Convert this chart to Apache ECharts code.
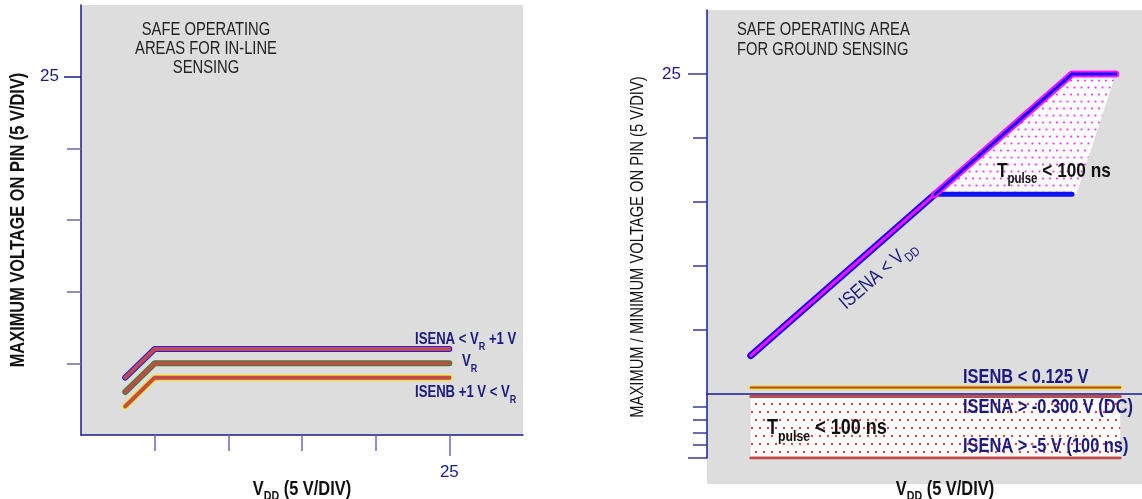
<!DOCTYPE html>
<html>
<head>
<meta charset="utf-8">
<script src="https://cdn.jsdelivr.net/npm/echarts@6/dist/echarts.min.js"></script>
<style>
html, body { margin: 0; padding: 0; background: #fff; }
#main { width: 1142px; height: 499px; }
</style>
</head>
<body>
<div id="main"></div>
<script>
// in-line sensing (left panel), volts
const inlineX = [3, 5, 25];
const isenaInline = [4, 6, 6];
const vrInline = [3, 5, 5];
const isenbInline = [2, 4, 4];

// ground sensing (right panel)
const gndX = [3, 15.6, 25, 28];
const gndY = [3, 15.6, 25, 25];
const floorX = [15.6, 25];
const floorY = [15.6, 15.6];
const pulseAreaX = [15.6, 25, 28, 25.3];
const pulseAreaY = [15.6, 25, 25, 15.6];
const lowX = [3, 28.3];
const isenbGnd = 0.5;
const isenaDc = -0.2;
const isenaPulse = -5;

// ticks
const inlineTicks = [5, 10, 15, 20];
const gndTicks = [-4, -3, -2, -1, 5, 10, 15, 20];
const bigTick = [25];
const gndBigTicks = [-5, 25];

const FONT = "'Liberation Sans', Arial, sans-serif";
const NAVY = '#1a1a80';
const AXIS = '#1a1a8c';
const RED = '#c24a4a';
const NARROW = 0.82; // squeeze to look like a condensed face

function pts(xs, ys) {
    return xs.map(function (x, i) { return [x, ys[i]]; });
}

// dotted fill pattern
function dots(color, step, r) {
    var c = document.createElement('canvas');
    c.width = step * 2; c.height = step * 2;
    var g = c.getContext('2d');
    g.fillStyle = '#fff';
    g.fillRect(0, 0, c.width, c.height);
    g.fillStyle = color;
    [[step / 2, step / 2], [step * 1.5, step / 2], [step, step * 1.5], [0, step * 1.5], [step * 2, step * 1.5]].forEach(function (p) {
        g.beginPath(); g.arc(p[0], p[1], r, 0, Math.PI * 2); g.fill();
    });
    return { image: c, repeat: 'repeat' };
}

function line(data, color, width, xi, yi, z) {
    return {
        type: 'line', xAxisIndex: xi, yAxisIndex: yi, data: data,
        symbol: 'none', z: z, silent: true,
        lineStyle: { color: color, width: width, cap: 'round', join: 'round' }
    };
}

function area(data, fill, xi, yi) {
    return {
        type: 'custom', xAxisIndex: xi, yAxisIndex: yi, data: [0], z: 1, silent: true,
        renderItem: function (params, api) {
            return {
                type: 'polygon',
                shape: { points: data.map(function (p) { return api.coord(p); }) },
                style: { fill: fill }
            };
        }
    };
}

// text with {m|..} and {s|..} (subscript) parts
function rich(text, size, subSize, color, weight, x, y, align, rotation) {
    return {
        type: 'text', x: x, y: y, z: 100, silent: true,
        rotation: rotation || 0, scaleX: NARROW,
        style: {
            text: text, textAlign: align, verticalAlign: 'middle', fill: color,
            rich: {
                m: { fontSize: size, fontWeight: weight, fontFamily: FONT, fill: color, lineHeight: size, verticalAlign: 'top' },
                s: { fontSize: subSize, fontWeight: weight, fontFamily: FONT, fill: color, lineHeight: subSize, verticalAlign: 'top', padding: [Math.round(size * 0.55), 0, 0, 0] }
            }
        }
    };
}

function plain(text, size, color, weight, x, y, align, rotation, lh) {
    return {
        type: 'text', x: x, y: y, z: 100, silent: true,
        rotation: rotation || 0, scaleX: NARROW,
        style: {
            text: text, textAlign: align, verticalAlign: 'middle', fill: color,
            fontSize: size, fontWeight: weight, fontFamily: FONT, lineHeight: lh || size + 2
        }
    };
}

var chart = echarts.init(document.getElementById('main'));

var tickLabel = { color: AXIS, fontSize: 17, fontFamily: FONT };

var option = {
    animation: false,
    backgroundColor: '#fff',
    grid: [
        { left: 81, top: 5, width: 442, height: 430, show: true, backgroundColor: '#dddddd', borderWidth: 0, outerBoundsMode: 'none', containLabel: false },
        { left: 707, top: 10, width: 438, height: 448, show: false, outerBoundsMode: 'none', containLabel: false }
    ],
    xAxis: [
        { gridIndex: 0, type: 'value', min: 0, max: 30, position: 'bottom',
          axisLine: { show: true, onZero: false, lineStyle: { color: AXIS, width: 1.5 } },
          axisTick: { show: true, customValues: inlineTicks, length: 16, lineStyle: { color: '#6a6ab4', width: 1.5 } },
          axisLabel: { show: false }, splitLine: { show: false } },
        { gridIndex: 0, type: 'value', min: 0, max: 30, position: 'bottom', offset: 0,
          axisLine: { show: false, onZero: false },
          axisTick: { show: true, customValues: bigTick, length: 21, lineStyle: { color: '#6a6ab4', width: 1.5 } },
          axisLabel: Object.assign({ show: true, customValues: bigTick, margin: 29 }, tickLabel),
          splitLine: { show: false } },
        { gridIndex: 1, type: 'value', min: 0, max: 30, position: 'bottom',
          axisLine: { show: true, onZero: true, lineStyle: { color: AXIS, width: 1.5 } },
          axisTick: { show: false }, axisLabel: { show: false }, splitLine: { show: false } }
    ],
    yAxis: [
        { gridIndex: 0, type: 'value', min: 0, max: 30, position: 'left',
          axisLine: { show: true, onZero: false, lineStyle: { color: AXIS, width: 1.5 } },
          axisTick: { show: true, customValues: inlineTicks, length: 14, lineStyle: { color: '#6a6ab4', width: 1.5 } },
          axisLabel: { show: false }, splitLine: { show: false } },
        { gridIndex: 0, type: 'value', min: 0, max: 30, position: 'left', offset: 0,
          axisLine: { show: false, onZero: false },
          axisTick: { show: true, customValues: bigTick, length: 17, lineStyle: { color: AXIS, width: 1.5 } },
          axisLabel: Object.assign({ show: true, customValues: bigTick, margin: 22 }, tickLabel),
          splitLine: { show: false } },
        { gridIndex: 1, type: 'value', min: -5, max: 30, position: 'left',
          axisLine: { show: true, onZero: false, lineStyle: { color: AXIS, width: 1.5 } },
          axisTick: { show: true, customValues: gndTicks, length: 14, lineStyle: { color: '#3a3a9c', width: 1.5 } },
          axisLabel: { show: false }, splitLine: { show: false } },
        { gridIndex: 1, type: 'value', min: -5, max: 30, position: 'left', offset: 0,
          axisLine: { show: false, onZero: false },
          axisTick: { show: true, customValues: gndBigTicks, length: 19, lineStyle: { color: '#3a3a9c', width: 1.5 } },
          axisLabel: Object.assign({ show: true, customValues: bigTick, margin: 26 }, tickLabel),
          splitLine: { show: false } }
    ],
    graphic: [
        { type: 'rect', z: -10, silent: true, shape: { x: 707, y: 10, width: 435, height: 474 }, style: { fill: '#dddddd' } },
        plain('SAFE OPERATING\nAREAS FOR IN-LINE\nSENSING', 18, '#222', 'normal', 206, 49, 'center', 0, 19),
        plain('SAFE OPERATING AREA\nFOR GROUND SENSING', 18, '#222', 'normal', 737, 40, 'left', 0, 20),
        plain('MAXIMUM VOLTAGE ON PIN (5 V/DIV)', 20, '#111', 'bold', 18, 220, 'center', Math.PI / 2),
        plain('MAXIMUM / MINIMUM VOLTAGE ON PIN (5 V/DIV)', 18, '#111', 'normal', 638, 247, 'center', Math.PI / 2),
        rich('{m|V}{s|DD}{m| (5 V/DIV)}', 20, 13, '#111', 'bold', 302, 489, 'center'),
        rich('{m|V}{s|DD}{m| (5 V/DIV)}', 20, 13, '#111', 'bold', 945, 489, 'center'),
        rich('{m|ISENA < V}{s|R}{m| +1 V}', 16, 11, NAVY, 'bold', 415, 340, 'left'),
        rich('{m|V}{s|R}', 16, 11, NAVY, 'bold', 462, 362, 'left'),
        rich('{m|ISENB +1 V < V}{s|R}', 16, 11, NAVY, 'bold', 415, 393, 'left'),
        rich('{m|T}{s|pulse}{m| < 100 ns}', 21, 14, '#111', 'bold', 997, 171, 'left'),
        rich('{m|T}{s|pulse}{m| < 100 ns}', 22, 15, '#111', 'bold', 767, 428, 'left'),
        rich('{m|ISENA < V}{s|DD}', 20, 13, NAVY, 'normal', 878, 275, 'center', 0.716),
        plain('ISENB < 0.125 V', 20, NAVY, 'bold', 963, 377, 'left'),
        plain('ISENA > -0.300 V (DC)', 20, NAVY, 'bold', 963, 407, 'left'),
        plain('ISENA > -5 V (100 ns)', 20, NAVY, 'bold', 963, 446, 'left')
    ],
    series: [
        // left panel
        line(pts(inlineX, isenaInline), '#2020e0', 6, 0, 0, 3),
        line(pts(inlineX, isenaInline), RED, 4, 0, 0, 4),
        line(pts(inlineX, vrInline), '#2e8a2e', 6, 0, 0, 3),
        line(pts(inlineX, vrInline), RED, 4, 0, 0, 4),
        line(pts(inlineX, isenbInline), '#f4e000', 6, 0, 0, 3),
        line(pts(inlineX, isenbInline), RED, 4, 0, 0, 4),
        // right panel fills
        area(pts(pulseAreaX, pulseAreaY), dots('#ff30ff', 7, 1.1), 2, 2),
        area([[lowX[0], isenaDc], [lowX[1], isenaDc], [lowX[1], isenaPulse], [lowX[0], isenaPulse]], dots('#ff3838', 8, 1.2), 2, 2),
        // right panel lines
        line(pts(floorX, floorY), '#1010f0', 5, 2, 2, 3),
        line(pts(gndX.slice(0, 2), gndY.slice(0, 2)), '#1010f0', 7, 2, 2, 3),
        line(pts(gndX.slice(0, 2), gndY.slice(0, 2)), '#ff10ff', 3, 2, 2, 4),
        line(pts(gndX.slice(1), gndY.slice(1)), '#ff10ff', 7, 2, 2, 3),
        line(pts(gndX.slice(1), gndY.slice(1)), '#1010f0', 3, 2, 2, 4),
        line(pts(lowX, [isenbGnd, isenbGnd]), '#f4e000', 4, 2, 2, 3),
        line(pts(lowX, [isenbGnd, isenbGnd]), '#b84040', 2, 2, 2, 4),
        line(pts(lowX, [isenaDc, isenaDc]), RED, 3, 2, 2, 3),
        line(pts(lowX, [isenaPulse, isenaPulse]), RED, 3, 2, 2, 3)
    ]
};

chart.setOption(option);
</script>
</body>
</html>
